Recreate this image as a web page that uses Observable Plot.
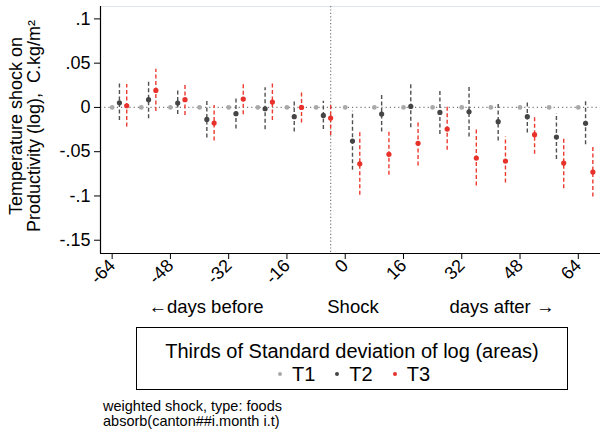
<!DOCTYPE html>
<html>
<head>
<meta charset="utf-8">
<script src="https://cdn.jsdelivr.net/npm/d3@7"></script>
<script src="https://cdn.jsdelivr.net/npm/@observablehq/plot@0.6"></script>
<style>
  body { margin: 0; background: #fff; }
  #wrap { position: relative; width: 600px; height: 430px; font-family: "Liberation Sans", Arial, sans-serif; color: #000; }
  #wrap svg { position: absolute; left: 0; top: 0; }
  .abs { position: absolute; white-space: nowrap; }
</style>
</head>
<body>
<div id="wrap"></div>
<script>
// ---- data ----
const days = [-64, -56, -48, -40, -32, -24, -16, -8, 0, 8, 16, 24, 32, 40, 48, 56, 64];
const t1Est = [0, 0, 0, 0, 0, 0, 0, 0, 0, 0, 0, 0, 0, 0, 0, 0, 0];
const t2Est = [0.0053, 0.0087, 0.0049, -0.0135, -0.0071, -0.0015, -0.0105, -0.0090, -0.0380, -0.0075, 0.0011, -0.0056, -0.0049, -0.0161, -0.0105, -0.0335, -0.0180];
const t2Lo  = [-0.0147, -0.0128, -0.0079, -0.0346, -0.0245, -0.0252, -0.0279, -0.0248, -0.0711, -0.0279, -0.0229, -0.0305, -0.0335, -0.0380, -0.0290, -0.0587, -0.0421];
const t2Hi  = [0.0286, 0.0300, 0.0200, 0.0079, 0.0098, 0.0222, 0.0071, 0.0071, -0.0042, 0.0155, 0.0260, 0.0207, 0.0237, 0.0053, 0.0079, -0.0071, 0.0068];
const t3Est = [0.0019, 0.0192, 0.0087, -0.0177, 0.0094, 0.0060, 0.0000, -0.0120, -0.0636, -0.0530, -0.0406, -0.0245, -0.0572, -0.0606, -0.0308, -0.0629, -0.0730];
const t3Lo  = [-0.0220, -0.0045, -0.0090, -0.0380, -0.0083, -0.0147, -0.0177, -0.0316, -0.0993, -0.0767, -0.0662, -0.0485, -0.0888, -0.0854, -0.0530, -0.0918, -0.1012];
const t3Hi  = [0.0260, 0.0430, 0.0260, 0.0023, 0.0267, 0.0293, 0.0173, 0.0023, -0.0279, -0.0260, -0.0147, 0.0023, -0.0245, -0.0335, -0.0090, -0.0335, -0.0437];
const xTicks = [-64, -48, -32, -16, 0, 16, 32, 48, 64];
const xTickLabels = ["-64", "-48", "-32", "-16", "0", "16", "32", "48", "64"];
const yTicks = [0.1, 0.05, 0, -0.05, -0.1, -0.15];
const yTickLabels = [".1", ".05", "0", "-.05", "-.1", "-.15"];
const shockDay = -4;
const seriesNames = ["T1", "T2", "T3"];
const seriesColors = ["#a9a9a9", "#454545", "#e8312a"];
const xDomain = [-67.2, 70.1];
const yDomain = [-0.165, 0.114];

const t1 = days.map((d, i) => ({day: d, est: t1Est[i]}));
const t2 = days.map((d, i) => ({day: d, est: t2Est[i], lo: t2Lo[i], hi: t2Hi[i]}));
const t3 = days.map((d, i) => ({day: d, est: t3Est[i], lo: t3Lo[i], hi: t3Hi[i]}));

const pxPerDay = 500 / (xDomain[1] - xDomain[0]);

const chart = Plot.plot({
  width: 600,
  height: 293,
  marginLeft: 100,
  marginRight: 0,
  marginTop: 6,
  marginBottom: 40,
  style: {fontFamily: "'Liberation Sans', Arial, sans-serif", fontSize: "18px", color: "#000", background: "#fff"},
  x: {domain: xDomain, label: null},
  y: {domain: yDomain, label: null},
  marks: [
    Plot.ruleY([yDomain[1]], {stroke: "#dde5ea", strokeWidth: 1.2}),
    Plot.ruleY([0], {stroke: "#7a7a7a", strokeWidth: 1.2, strokeDasharray: "1.2,3"}),
    Plot.ruleX([shockDay], {stroke: "#7a7a7a", strokeWidth: 1.2, strokeDasharray: "1.2,2.2"}),
    Plot.ruleX(t2, {x: "day", y1: "lo", y2: "hi", dx: 2 * pxPerDay, stroke: "#505050", strokeWidth: 1.4, strokeDasharray: "4,2.5"}),
    Plot.ruleX(t3, {x: "day", y1: "lo", y2: "hi", dx: 4 * pxPerDay, stroke: "#ec3a30", strokeWidth: 1.4, strokeDasharray: "4,2.5"}),
    Plot.dot(t1, {x: "day", y: "est", r: 2.4, fill: seriesColors[0], stroke: "none"}),
    Plot.dot(t2, {x: "day", y: "est", dx: 2 * pxPerDay, r: 2.6, fill: seriesColors[1], stroke: "none"}),
    Plot.dot(t3, {x: "day", y: "est", dx: 4 * pxPerDay, r: 2.6, fill: seriesColors[2], stroke: "none"}),
    Plot.axisY({ticks: yTicks, tickFormat: d => yTickLabels[yTicks.indexOf(d)], tickSize: 6, tickPadding: 4, label: null, fontSize: 18}),
    Plot.axisX({ticks: xTicks, tickFormat: d => xTickLabels[xTicks.indexOf(d)], tickSize: 6, tickPadding: 3, tickRotate: -45, label: null, fontSize: 18}),
    Plot.ruleX([xDomain[0]], {stroke: "#000", strokeWidth: 1.2}),
    Plot.ruleY([yDomain[0]], {stroke: "#000", strokeWidth: 1.2})
  ]
});

const wrap = document.getElementById("wrap");
wrap.appendChild(chart);

function addText(txt, css) {
  const d = document.createElement("div");
  d.className = "abs";
  d.innerHTML = txt;
  Object.assign(d.style, css);
  wrap.appendChild(d);
  return d;
}

// y-axis title (two lines, rotated)
addText("Temperature shock on<br>Productivity (log),&nbsp; C.kg/m\u00B2", {
  left: (26 - 125) + "px", top: (126 - 18) + "px", width: "250px", height: "36px",
  fontSize: "18px", lineHeight: "17.5px", textAlign: "center",
  transform: "rotate(-90deg)", transformOrigin: "50% 50%"
});

// x-axis annotation
const xNotes = ["\u2190days before", "Shock", "days after \u2192"];
const xNoteCenters = [206, 353, 502];
xNotes.forEach((t, i) => addText(t, {left: (xNoteCenters[i] - 100) + "px", width: "200px", textAlign: "center", top: "296px", fontSize: "18.5px", lineHeight: "22px"}));

// legend box
const legend = document.createElement("div");
legend.className = "abs";
Object.assign(legend.style, {left: "136px", top: "327px", width: "430px", height: "61px", border: "1px solid #000", textAlign: "center"});
legend.innerHTML = `<div style="font-size:20px;line-height:22px;margin-top:12px">Thirds of Standard deviation of log (areas)</div>` +
  `<div style="font-size:20px;line-height:22px;margin-top:1px;padding-left:4px">` +
  seriesNames.map((n, i) => `<span style="display:inline-block;margin:0 10px"><span style="display:inline-block;width:4px;height:4px;border-radius:2px;background:${seriesColors[i]};vertical-align:middle;margin-right:10px;position:relative;top:-2px"></span>${n}</span>`).join("") +
  `</div>`;
wrap.appendChild(legend);

// caption
addText("weighted shock, type: foods<br>absorb(canton##i.month i.t)", {left: "103px", top: "399px", fontSize: "14.5px", lineHeight: "15px"});
</script>
</body>
</html>
